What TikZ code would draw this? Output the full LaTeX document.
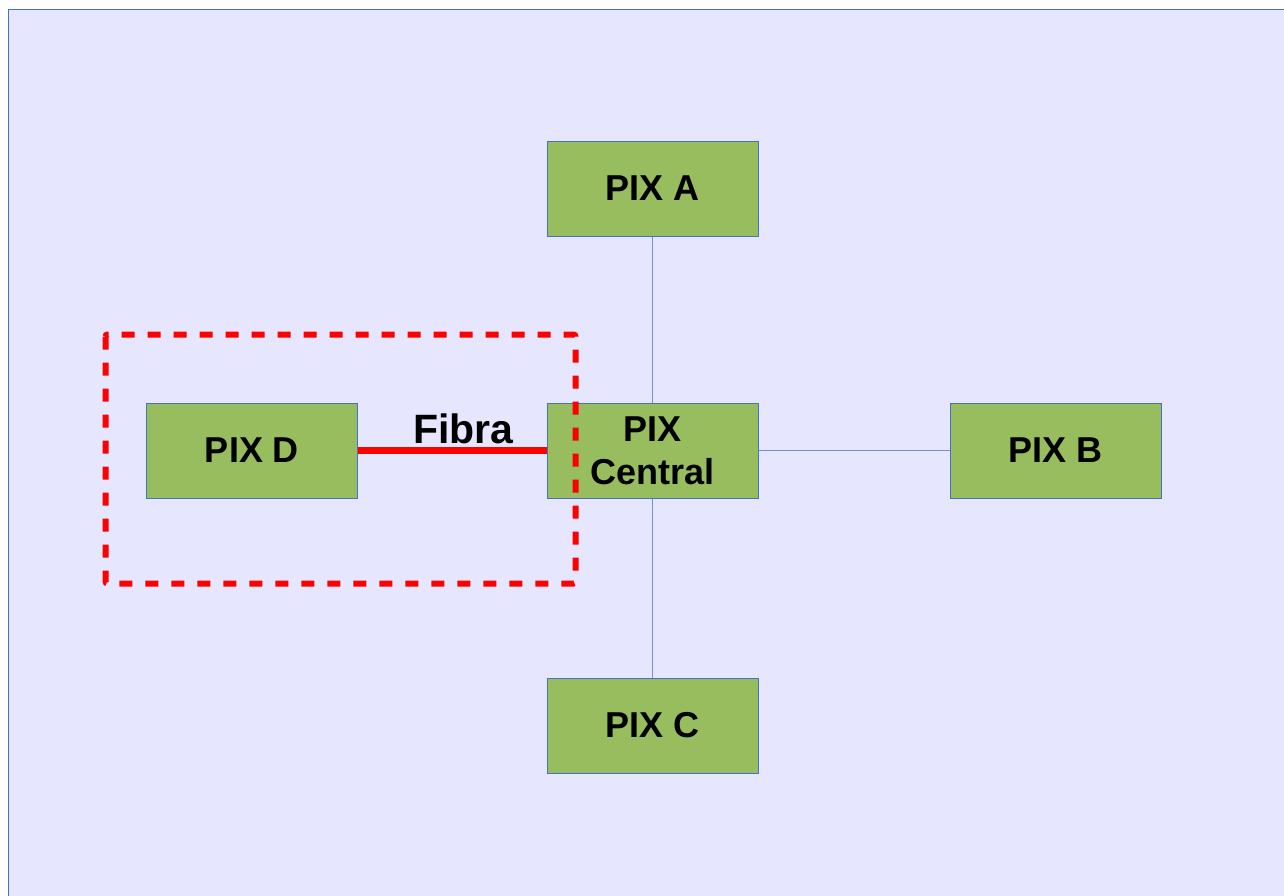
\documentclass[tikz,border=0pt]{standalone}
\usepackage{fontspec}
\setmainfont{Liberation Sans}
\definecolor{pagebg}{RGB}{230,230,255}
\definecolor{boxgreen}{RGB}{151,189,94}
\definecolor{boxedge}{RGB}{68,114,196}
\definecolor{linkblue}{RGB}{114,147,207}
\tikzset{
  pixbox/.style={draw=boxedge,line width=1pt,fill=boxgreen,minimum width=211pt,minimum height=95pt,
    inner sep=0pt,align=center,font=\bfseries\fontsize{36}{43}\selectfont},
  link/.style={draw=linkblue,line width=1.4pt},
  fibre/.style={draw=red,line width=6.5pt},
  zone/.style={draw=red,line width=6pt,dash pattern=on 13pt off 13pt,rounded corners=2pt}
}
\begin{document}
\begin{tikzpicture}[x=1pt,y=-1pt]
\path[use as bounding box] (0,0) rectangle (1284,895);
\fill[pagebg] (8.5,9.5) rectangle (1300,910);
\draw[boxedge,line width=1.3pt] (8.5,910)--(8.5,9.5)--(1300,9.5);

\node[pixbox] (pixA) at (652.5,188.5) {PIX A};
\node[pixbox] (pixcentral) at (652.5,450.5) {PIX\\Central};
\node[pixbox] (pixD) at (252,450.5) {PIX D};
\node[pixbox] (pixB) at (1055.5,450.5) {PIX B};
\node[pixbox] (pixC) at (652.5,725.5) {PIX C};

\draw[link] (pixA) -- (pixcentral);
\draw[link] (pixcentral) -- (pixB);
\draw[link] (pixcentral) -- (pixC);
\draw[fibre] (pixD.east) -- (pixcentral.west);
\node[anchor=base,inner sep=0pt,font=\bfseries\fontsize{41}{48}\selectfont] (fibra) at (463.5,443) {Fibra};

\draw[zone] (105.5,334.5) rectangle (575.5,583.5);
\end{tikzpicture}
\end{document}
